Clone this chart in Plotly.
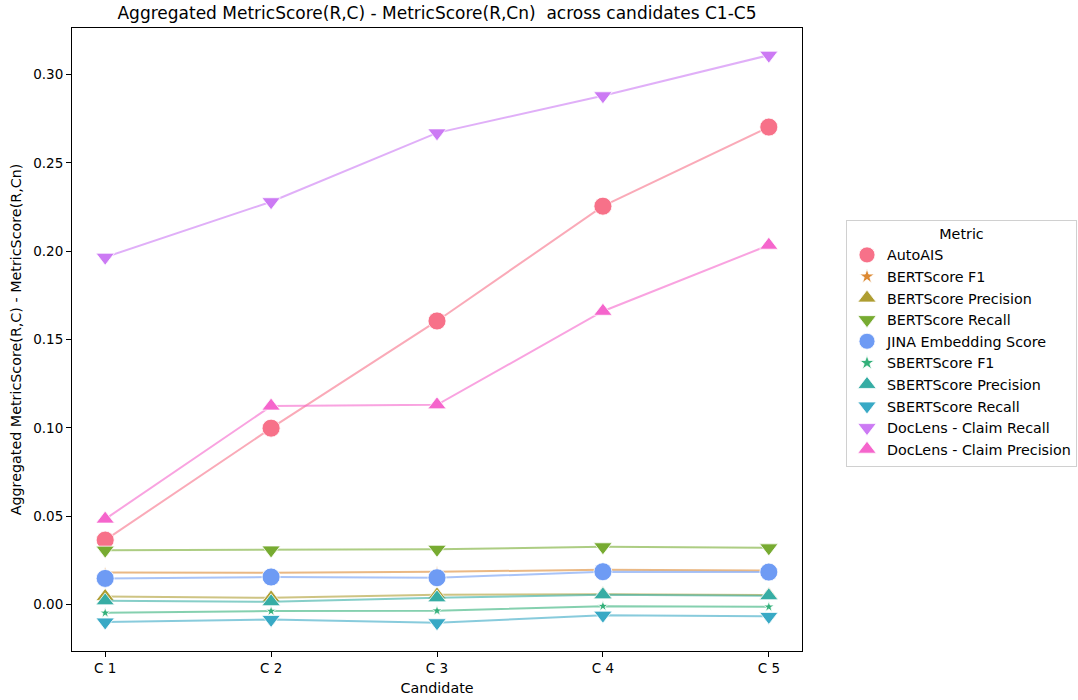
import plotly.graph_objects as go

candidates = ["C 1", "C 2", "C 3", "C 4", "C 5"]

metric_names = [
    "AutoAIS",
    "BERTScore F1",
    "BERTScore Precision",
    "BERTScore Recall",
    "JINA Embedding Score",
    "SBERTScore F1",
    "SBERTScore Precision",
    "SBERTScore Recall",
    "DocLens - Claim Recall",
    "DocLens - Claim Precision",
]

autoais = [0.0364, 0.0998, 0.1605, 0.2255, 0.2703]
bertscore_f1 = [0.0181, 0.0179, 0.0185, 0.0196, 0.0192]
bertscore_precision = [0.0045, 0.0037, 0.0054, 0.0058, 0.0053]
bertscore_recall = [0.0307, 0.0308, 0.0312, 0.0326, 0.0320]
jina_embedding = [0.0147, 0.0155, 0.0151, 0.0185, 0.0183]
sbertscore_f1 = [-0.0048, -0.0038, -0.0036, -0.0010, -0.0014]
sbertscore_precision = [0.0020, 0.0015, 0.0037, 0.0054, 0.0049]
sbertscore_recall = [-0.0100, -0.0085, -0.0104, -0.0061, -0.0068]
doclens_claim_recall = [0.1966, 0.2280, 0.2670, 0.2880, 0.3110]
doclens_claim_precision = [0.0483, 0.1123, 0.1130, 0.1660, 0.2034]

series_values = [
    autoais, bertscore_f1, bertscore_precision, bertscore_recall, jina_embedding,
    sbertscore_f1, sbertscore_precision, sbertscore_recall,
    doclens_claim_recall, doclens_claim_precision,
]

# husl hues per metric
colors = [
    (247, 113, 137),
    (220, 137, 50),
    (174, 157, 49),
    (119, 171, 49),
    (110, 155, 244),
    (51, 176, 122),
    (54, 173, 164),
    (56, 169, 197),
    (204, 122, 244),
    (245, 101, 204),
]

symbols = [
    "circle", "star", "triangle-up", "triangle-down", "circle",
    "star", "triangle-up", "triangle-down", "triangle-down", "triangle-up",
]

symbol_sizes = {"circle": 18, "star": 8, "triangle-up": 16, "triangle-down": 16}
legend_sizes = {"circle": 18, "star": 11, "triangle-up": 16, "triangle-down": 16}

fig = go.Figure()
for name, vals, (r, g, b), sym in zip(metric_names, series_values, colors, symbols):
    # translucent connecting line
    fig.add_trace(go.Scatter(
        x=candidates,
        y=vals,
        name=name,
        mode="lines",
        line=dict(color=f"rgba({r},{g},{b},0.6)", width=2),
        showlegend=False,
        legendgroup=name,
        hoverinfo="skip",
    ))
    # opaque markers on top of the line
    fig.add_trace(go.Scatter(
        x=candidates,
        y=vals,
        name=name,
        mode="markers",
        marker=dict(
            symbol=sym,
            size=symbol_sizes[sym],
            color=f"rgb({r},{g},{b})",
            line=dict(color="white", width=0.8),
        ),
        showlegend=False,
        legendgroup=name,
    ))
    # legend entry (marker only)
    fig.add_trace(go.Scatter(
        x=[None],
        y=[None],
        name=name,
        mode="markers",
        marker=dict(
            symbol=sym,
            size=legend_sizes[sym],
            color=f"rgb({r},{g},{b})",
            line=dict(color="white", width=0.8),
        ),
        legendgroup=name,
    ))

font_family = "DejaVu Sans"

fig.update_layout(
    width=1078,
    height=700,
    margin=dict(l=72, r=276, t=28, b=49),
    paper_bgcolor="white",
    plot_bgcolor="white",
    font=dict(family=font_family, size=13, color="black"),
    title=dict(
        text="Aggregated MetricScore(R,C) - MetricScore(R,Cn)\u00a0 across candidates C1-C5",
        x=(72 + 802) / 2 / 1078,
        xanchor="center",
        yref="container",
        y=1 - 13 / 700,
        yanchor="middle",
        font=dict(family=font_family, size=17, color="black"),
    ),
    xaxis=dict(
        type="category",
        range=[-0.2, 4.2],
        automargin=False,
        showgrid=False,
        zeroline=False,
        showline=True,
        linecolor="black",
        linewidth=1,
        mirror=True,
        ticks="outside",
        ticklen=5,
        tickcolor="black",
        tickfont=dict(size=13.5),
        title=dict(text="Candidate", font=dict(size=14.3), standoff=7),
    ),
    yaxis=dict(
        range=[-0.0264, 0.3264],
        tickvals=[0.0, 0.05, 0.10, 0.15, 0.20, 0.25, 0.30],
        tickformat=".2f",
        automargin=False,
        showgrid=False,
        zeroline=False,
        showline=True,
        linecolor="black",
        linewidth=1,
        mirror=True,
        ticks="outside",
        ticklen=5,
        tickcolor="black",
        tickfont=dict(size=13.5),
        title=dict(text="Aggregated MetricScore(R,C) - MetricScore(R,Cn)", font=dict(size=14.3), standoff=8),
    ),
    legend=dict(
        title=dict(text="Metric", side="top center", font=dict(size=14.3)),
        xref="container",
        yref="container",
        x=846 / 1078,
        xanchor="left",
        y=1 - 343 / 700,
        yanchor="middle",
        bgcolor="white",
        bordercolor="#d0d0d0",
        borderwidth=1,
        font=dict(size=14.3),
        itemsizing="trace",
        tracegroupgap=0,
    ),
)

fig.write_html("out.html")
